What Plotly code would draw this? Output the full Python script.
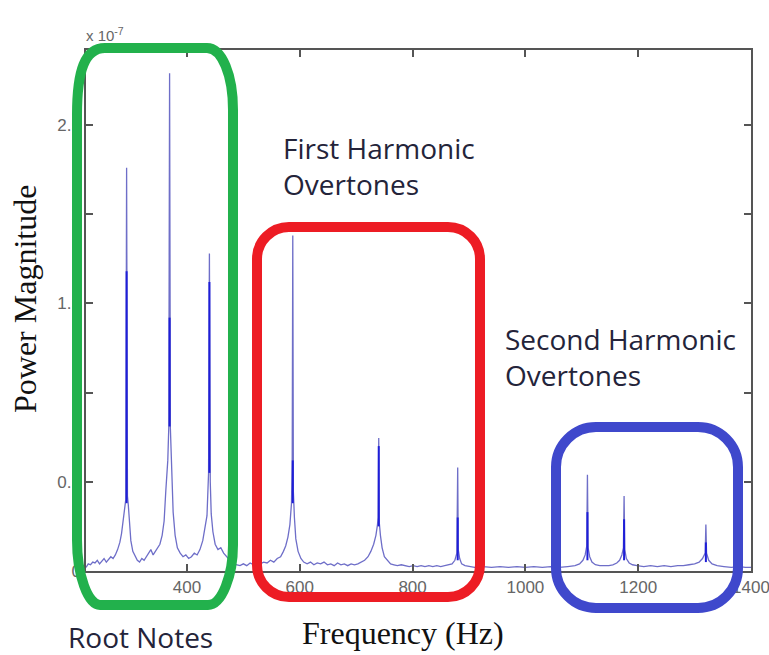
import plotly.graph_objects as go

# ---- spectrum (power in units of 1e-7) ----
freq_hz = [
    221, 225, 229, 233, 237, 241, 245, 249, 253, 257, 261, 265, 269, 273, 277, 281, 284, 287,
    289.5, 291.5, 293, 294.5, 296, 298, 300.5, 304, 308, 312, 316, 320, 324, 328, 332, 336,
    340, 344, 348, 352, 356, 359.5, 362.5, 366, 367.8, 369.2, 370.6, 372.5, 375.5, 379, 383,
    388, 393, 398, 403, 408, 413, 418, 423, 428, 432, 435.5, 438.3, 439.8, 441.3, 443, 446,
    450, 455, 460, 465, 470, 476, 482, 488, 494, 500, 506, 512, 518, 524, 530, 536, 542, 548,
    554, 560, 566, 571, 575, 579, 582.5, 585.3, 586.6, 587.6, 588.7, 590.5, 593, 597, 602,
    607, 613, 619, 625, 631, 637, 643, 649, 655, 661, 667, 673, 679, 685, 691, 697, 703, 709,
    715, 721, 726, 731, 735, 737.8, 739, 740, 741, 743, 746, 750, 755, 761, 767, 773, 780,
    787, 794, 801, 808, 815, 822, 829, 836, 843, 850, 857, 864, 870, 875, 878.5, 880, 881,
    883.5, 887, 893, 900, 910, 925, 940, 955, 970, 985, 1000, 1015, 1030, 1045, 1060, 1075,
    1088, 1096, 1102, 1106, 1108.8, 1110, 1111.2, 1114, 1118, 1124, 1132, 1140, 1148, 1155,
    1162, 1167, 1171, 1173.8, 1175, 1176.2, 1179, 1184, 1190, 1198, 1210, 1222, 1234, 1246,
    1258, 1270, 1280, 1290, 1300, 1308, 1314, 1318.8, 1320, 1321.2, 1325, 1331, 1340, 1352,
    1365, 1380, 1390, 1400,
]
power_e7 = [
    0.02, 0.04, 0.035, 0.05, 0.045, 0.06, 0.04, 0.055, 0.07, 0.05, 0.065, 0.08, 0.07, 0.09,
    0.12, 0.16, 0.21, 0.30, 0.37, 0.40, 2.26, 0.42, 0.37, 0.26, 0.17, 0.11, 0.08, 0.06, 0.05,
    0.07, 0.06, 0.08, 0.10, 0.12, 0.09, 0.11, 0.13, 0.15, 0.20, 0.28, 0.45, 0.62, 0.81, 2.79,
    0.80, 0.55, 0.33, 0.20, 0.13, 0.10, 0.08, 0.09, 0.07, 0.08, 0.10, 0.09, 0.12, 0.17, 0.24,
    0.31, 0.55, 1.78, 0.50, 0.32, 0.22, 0.15, 0.12, 0.13, 0.10, 0.08, 0.06, 0.04, 0.035, 0.03,
    0.04, 0.03, 0.045, 0.035, 0.05, 0.04, 0.05, 0.045, 0.06, 0.05, 0.07, 0.08, 0.11, 0.14,
    0.19, 0.26, 0.38, 0.62, 1.88, 0.44, 0.30, 0.18, 0.11, 0.07, 0.05, 0.04, 0.05, 0.035,
    0.045, 0.04, 0.05, 0.035, 0.04, 0.03, 0.045, 0.035, 0.04, 0.03, 0.04, 0.035, 0.04, 0.05,
    0.06, 0.08, 0.11, 0.15, 0.20, 0.26, 0.30, 0.745, 0.27, 0.20, 0.13, 0.08, 0.06, 0.04,
    0.035, 0.03, 0.035, 0.03, 0.025, 0.03, 0.025, 0.03, 0.025, 0.03, 0.025, 0.03, 0.025,
    0.03, 0.035, 0.04, 0.06, 0.10, 0.58, 0.12, 0.07, 0.04, 0.03, 0.025, 0.02, 0.025, 0.02,
    0.025, 0.02, 0.025, 0.02, 0.025, 0.02, 0.025, 0.02, 0.025, 0.03, 0.04, 0.06, 0.09, 0.14,
    0.54, 0.13, 0.08, 0.05, 0.035, 0.03, 0.03, 0.03, 0.035, 0.045, 0.06, 0.09, 0.13, 0.42,
    0.12, 0.07, 0.045, 0.035, 0.03, 0.025, 0.03, 0.025, 0.03, 0.025, 0.03, 0.03, 0.035, 0.04,
    0.05, 0.07, 0.10, 0.26, 0.10, 0.06, 0.04, 0.03, 0.025, 0.02, 0.025, 0.02, 0.02,
]

# dense (darker) stretch of each peak's stem
peak_hz = [293, 369.2, 439.8, 587.6, 740, 880, 1110, 1175, 1320]
core_top = [1.68, 1.42, 1.62, 0.62, 0.70, 0.30, 0.33, 0.29, 0.16]
core_bottom = [0.38, 0.81, 0.55, 0.38, 0.25, 0.06, 0.06, 0.06, 0.05]

# axes
x_range = [221, 1400]
y_range = [0, 2.92]
x_ticks = [400, 600, 800, 1000, 1200, 1400]
y_ticks = [0, 0.5, 1, 1.5, 2, 2.5]
y_tick_text = ["0", "0.5", "1", "1.5", "2", "2.5"]

# figure geometry (pixels)
W, H = 769, 655
L, T, R, B = 86, 50, 751, 571


def px(x, y):
    """pixel position -> paper coordinates"""
    return (x - L) / (R - L), (B - y) / (B - T)


def path_from(cmds):
    out = []
    for c in cmds:
        op, pts = c[0], c[1:]
        coords = []
        for (x, y) in pts:
            u, v = px(x, y)
            coords.append(f"{u:.5f},{v:.5f}")
        out.append(op + " " + " ".join(coords))
    return " ".join(out) + " Z"


def rounded_rect(x0, y0, x1, y1, r):
    k = 0.5523 * r
    return path_from([
        ("M", (x0 + r, y0)),
        ("L", (x1 - r, y0)),
        ("C", (x1 - r + k, y0), (x1, y0 + r - k), (x1, y0 + r)),
        ("L", (x1, y1 - r)),
        ("C", (x1, y1 - r + k), (x1 - r + k, y1), (x1 - r, y1)),
        ("L", (x0 + r, y1)),
        ("C", (x0 + r - k, y1), (x0, y1 - r + k), (x0, y1 - r)),
        ("L", (x0, y0 + r)),
        ("C", (x0, y0 + r - k), (x0 + r - k, y0), (x0 + r, y0)),
    ])


root_box = path_from([
    ("M", (77, 115)),
    ("C", (77, 70), (85, 48), (105, 48)),
    ("L", (207, 48)),
    ("C", (222, 48), (233, 75), (233, 110)),
    ("L", (233, 545)),
    ("C", (233, 575), (222, 605), (208, 605)),
    ("L", (100, 605)),
    ("C", (88, 605), (77, 575), (77, 540)),
])
first_box = rounded_rect(257, 227, 480, 597, 32)
second_box = rounded_rect(556, 427, 738, 608, 40)

fig = go.Figure()
fig.add_trace(go.Scatter(
    x=freq_hz, y=power_e7, mode="lines",
    line=dict(color="#6e6ec8", width=1.3), hoverinfo="skip", showlegend=False,
))
core_x, core_y = [], []
for f, hi, lo in zip(peak_hz, core_top, core_bottom):
    core_x += [f, f, None]
    core_y += [hi, lo, None]
fig.add_trace(go.Scatter(
    x=core_x, y=core_y, mode="lines",
    line=dict(color="#1e1ed8", width=2), hoverinfo="skip", showlegend=False,
))

axis_common = dict(
    showgrid=False, zeroline=False, showline=True, linecolor="#555555", linewidth=1.5,
    mirror="ticks", ticks="inside", ticklen=7, tickwidth=1.5, tickcolor="#555555",
    ticklabeloverflow="allow", automargin=False,
    tickfont=dict(family="Liberation Sans, Arial", size=17, color="#666666"),
)
fig.update_xaxes(range=x_range, tickvals=x_ticks, **axis_common)
fig.update_yaxes(range=y_range, tickvals=y_ticks, ticktext=y_tick_text, **axis_common)

ann = []


def note(text, x, y, font, xanchor="left", yanchor="middle", angle=0):
    u, v = px(x, y)
    ann.append(dict(text=text, x=u, y=v, xref="paper", yref="paper", showarrow=False,
                    xanchor=xanchor, yanchor=yanchor, textangle=angle, font=font, align="left"))


label_font = dict(family="Open Sans", size=28, color="#24243a")
serif_font = dict(family="Liberation Serif, Times New Roman", size=32, color="#111111")
note("First Harmonic<br>Overtones", 281, 166, label_font)
note("Second Harmonic<br>Overtones", 503, 357, label_font)
note("Root Notes", 66, 637, label_font)
note("Frequency (Hz)", 403, 633, serif_font, xanchor="center")
note("Power Magnitude", 25, 299, serif_font, xanchor="center", angle=-90)
note("x 10<sup>-7</sup>", 84, 34, dict(family="Liberation Sans, Arial", size=15, color="#666666"))

shapes = [
    dict(type="path", path=root_box, xref="paper", yref="paper", layer="above",
         line=dict(color="#22b14c", width=10)),
    dict(type="path", path=first_box, xref="paper", yref="paper", layer="above",
         line=dict(color="#ed1c24", width=10)),
    dict(type="path", path=second_box, xref="paper", yref="paper", layer="above",
         line=dict(color="#3f48cc", width=10)),
]

fig.update_layout(
    width=W, height=H, margin=dict(l=L, r=W - R, t=T, b=H - B, autoexpand=False),
    paper_bgcolor="white", plot_bgcolor="white",
    annotations=ann, shapes=shapes, showlegend=False,
)
fig.write_html("out.html")
